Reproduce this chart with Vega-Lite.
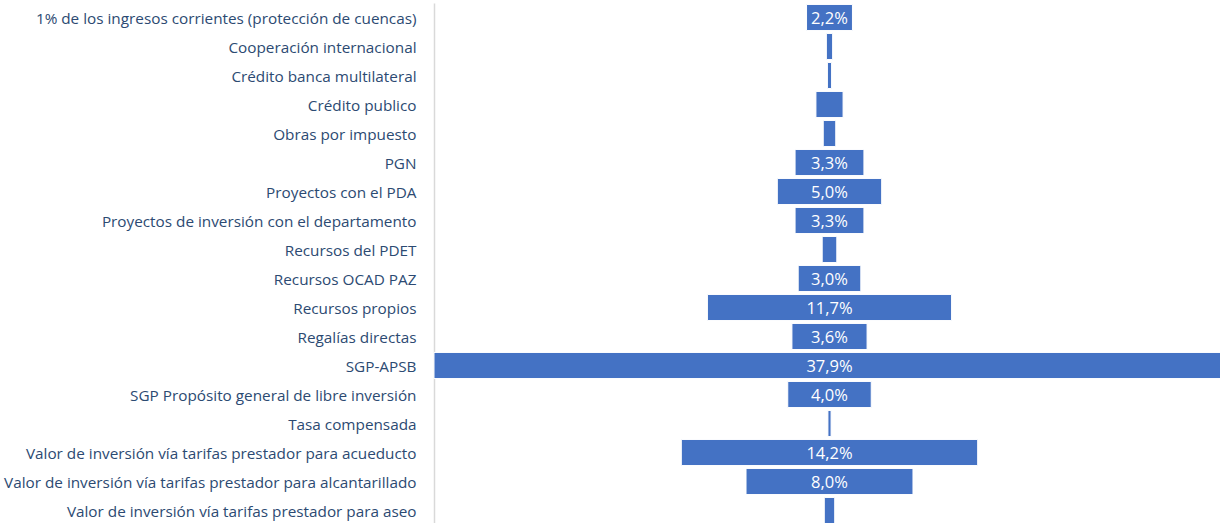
{
  "$schema": "https://vega.github.io/schema/vega-lite/v6.json",
  "autosize": {"type": "none"},
  "width": 791,
  "height": 522,
  "padding": {"top": 3, "left": 434, "right": 0, "bottom": 0},
  "background": "white",
  "config": {"view": {"stroke": null}},
  "data": {"values": [
    {"fuente": "1% de los ingresos corrientes (protección de cuencas)", "pct": 2.2},
    {"fuente": "Cooperación internacional", "pct": 0.3},
    {"fuente": "Crédito banca multilateral", "pct": 0.2},
    {"fuente": "Crédito publico", "pct": 1.3},
    {"fuente": "Obras por impuesto", "pct": 0.6},
    {"fuente": "PGN", "pct": 3.3},
    {"fuente": "Proyectos con el PDA", "pct": 5.0},
    {"fuente": "Proyectos de inversión con el departamento", "pct": 3.3},
    {"fuente": "Recursos del PDET", "pct": 0.7},
    {"fuente": "Recursos OCAD PAZ", "pct": 3.0},
    {"fuente": "Recursos propios", "pct": 11.7},
    {"fuente": "Regalías directas", "pct": 3.6},
    {"fuente": "SGP-APSB", "pct": 37.9},
    {"fuente": "SGP Propósito general de libre inversión", "pct": 4.0},
    {"fuente": "Tasa compensada", "pct": 0.15},
    {"fuente": "Valor de inversión vía tarifas prestador para acueducto", "pct": 14.2},
    {"fuente": "Valor de inversión vía tarifas prestador para alcantarillado", "pct": 8.0},
    {"fuente": "Valor de inversión vía tarifas prestador para aseo", "pct": 0.5}
  ]},
  "transform": [
    {"calculate": "-datum.pct/2", "as": "lo"},
    {"calculate": "datum.pct/2", "as": "hi"},
    {"calculate": "replace(format(datum.pct, '.1f'), '.', ',') + '%'", "as": "label"}
  ],
  "encoding": {
    "y": {
      "field": "fuente", "type": "nominal", "sort": null,
      "scale": {"paddingInner": 0.1, "paddingOuter": 0.05},
      "axis": {
        "title": null, "ticks": false, "domain": true, "domainColor": "#d9d9d9", "domainWidth": 1.5,
        "labelFont": "Open Sans", "labelFontSize": 15.3, "labelColor": "#2c4a72",
        "labelPadding": 18, "labelLimit": 460, "labelOffset": 1
      }
    }
  },
  "layer": [
    {
      "mark": {"type": "bar", "color": "#4472c4", "stroke": "white", "strokeWidth": 1},
      "encoding": {
        "x": {"field": "lo", "type": "quantitative", "scale": {"domain": [-18.95, 18.95], "nice": false}, "axis": null},
        "x2": {"field": "hi"}
      }
    },
    {
      "transform": [{"filter": "datum.pct >= 2"}],
      "mark": {"type": "text", "color": "white", "font": "Open Sans", "fontSize": 16.5, "align": "center", "baseline": "middle", "dy": 1},
      "encoding": {
        "x": {"datum": 0, "type": "quantitative"},
        "text": {"field": "label"}
      }
    }
  ]
}
